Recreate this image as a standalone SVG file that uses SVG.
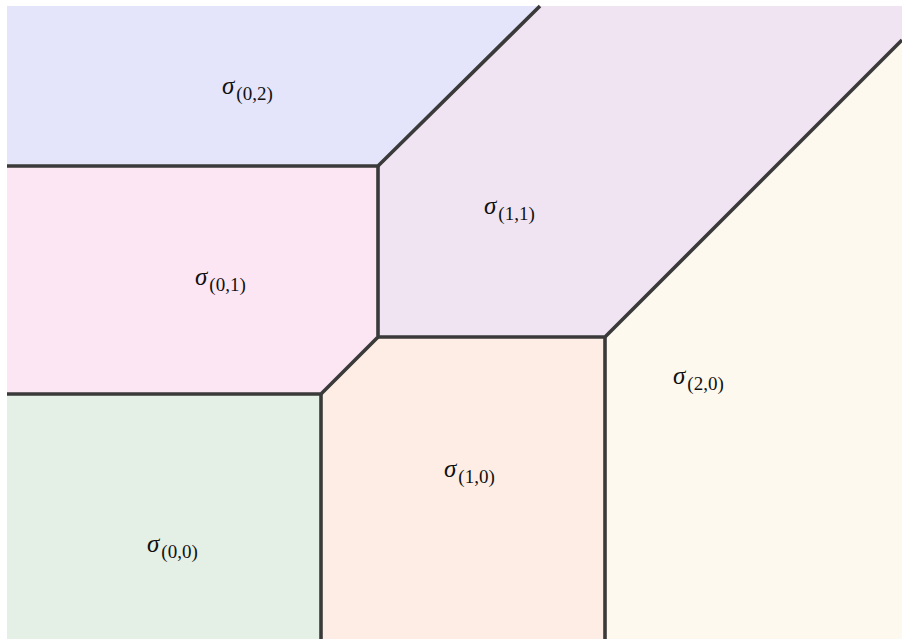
<svg xmlns="http://www.w3.org/2000/svg" width="902" height="639" viewBox="0 0 902 639">
<style>
.edge{fill:none;stroke:#3a3a3a;stroke-width:3.6;stroke-linejoin:miter;stroke-linecap:butt}
.s{font-family:"Liberation Serif","DejaVu Serif",serif;font-size:25px;font-style:italic;fill:#111}
.sub{font-style:normal;font-size:19px}
</style>
<rect width="902" height="639" fill="#ffffff"/>
<g id="sigma02"><polygon points="7,6 540,6 378,166 7,166" fill="#e4e4fb"/><text class="s" x="222" y="94">σ<tspan class="sub" dx="2" dy="6">(0,2)</tspan></text></g>
<g id="sigma01"><polygon points="7,166 378,166 378,337 321,394 7,394" fill="#fde6f4"/><text class="s" x="195" y="285">σ<tspan class="sub" dx="2" dy="6">(0,1)</tspan></text></g>
<g id="sigma11"><polygon points="540,6 902,6 902,40 605,337 378,337 378,166" fill="#f0e4f2"/><text class="s" x="484" y="214">σ<tspan class="sub" dx="2" dy="6">(1,1)</tspan></text></g>
<g id="sigma00"><polygon points="7,394 321,394 321,639 7,639" fill="#e4efe5"/><text class="s" x="147" y="552">σ<tspan class="sub" dx="2" dy="6">(0,0)</tspan></text></g>
<g id="sigma10"><polygon points="321,394 378,337 605,337 605,639 321,639" fill="#fdede5"/><text class="s" x="444" y="477">σ<tspan class="sub" dx="2" dy="6">(1,0)</tspan></text></g>
<g id="sigma20"><polygon points="605,337 902,40 902,639 605,639" fill="#fdf9ef"/><text class="s" x="673" y="384">σ<tspan class="sub" dx="2" dy="6">(2,0)</tspan></text></g>
<g id="connectors">
<polyline class="edge" points="7,166 378,166 540,6"/>
<polyline class="edge" points="378,166 378,337 321,394 7,394"/>
<polyline class="edge" points="378,337 605,337 902,40"/>
<line class="edge" x1="321" y1="394" x2="321" y2="639"/>
<line class="edge" x1="605" y1="337" x2="605" y2="639"/>
</g>
</svg>
